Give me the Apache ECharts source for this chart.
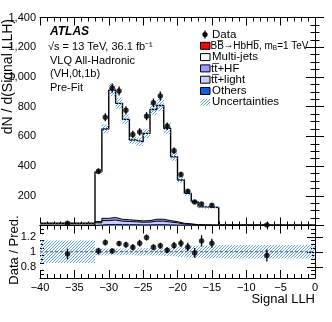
<!DOCTYPE html>
<html>
<head>
<meta charset="utf-8">
<script src="https://cdn.jsdelivr.net/npm/echarts@6/dist/echarts.min.js"></script>
<style>
html,body{margin:0;padding:0;background:#fff;}
#main{width:332px;height:322px;}
</style>
</head>
<body>
<div id="main"></div>
<script>
// Signal LLH bin edges (variable width bins)
var binEdges = [-40,-32,-31,-30,-29,-28,-27,-26,-25,-24,-23,-22,-21,-20,-19,-18,-17,-16,-14,0];

// pre-fit backgrounds, dN/d(Signal LLH)
var others   = [0.5, 3, 6, 6, 5, 5, 5, 4, 4, 5, 5, 4, 3, 2, 2, 1, 1, 0.5, 0.1];
var ttLight  = [1, 15, 27, 31, 24, 22, 20, 18, 19, 24, 24, 19, 15, 8, 6, 3, 2, 1.5, 0.2];
var ttHF     = [0.5, 8, 15, 17, 13, 12, 10, 9, 10, 13, 13, 10, 8, 5, 3, 2, 1.5, 1, 0.1];
var multiJets= [13, 335, 602, 857, 780, 675, 540, 532, 587, 739, 766, 622, 436, 291, 205, 154, 121, 119, 3.4];
var signal   = [0, 0.2, 0.4, 0.6, 0.6, 0.6, 0.5, 0.5, 0.6, 0.8, 1, 1, 1, 1, 0.8, 0.8, 0.7, 0.6, 0.2];

// data
var dataX   = [-36, -31.5, -30.5, -29.5, -28.5, -27.5, -26.5, -25.5, -24.5, -23.5, -22.5, -21.5, -20.5, -19.5, -18.5, -17.5, -16.5, -15, -7];
var dataY   = [14.5, 365, 728, 925, 905, 775, 612, 630, 735, 826, 872, 668, 503, 343, 230, 158, 145, 136, 3.8];
var dataErr = [2, 19, 27, 30, 30, 28, 25, 25, 27, 29, 30, 26, 22, 19, 15, 13, 12, 8, 0.5];

// ratio panel
var ratio    = [0.97, 1.01, 1.125, 1.01, 1.11, 1.095, 1.06, 1.115, 1.19, 1.06, 1.08, 1.02, 1.085, 1.115, 1.065, 0.985, 1.145, 1.115, 0.95];
var ratioErr = [0.07, 0.045, 0.04, 0.035, 0.035, 0.04, 0.04, 0.045, 0.04, 0.04, 0.04, 0.04, 0.045, 0.05, 0.055, 0.065, 0.075, 0.06, 0.08];
var relUnc   = [0.15, 0.05, 0.045, 0.045, 0.045, 0.045, 0.045, 0.05, 0.05, 0.05, 0.05, 0.055, 0.06, 0.07, 0.075, 0.08, 0.08, 0.085, 0.09];

var ratioTicks = [0.8, 1, 1.2];
var ratioMinorTicks = [0.7, 0.75, 0.85, 0.9, 0.95, 1.05, 1.1, 1.15, 1.25, 1.3];

var FONT = "'Liberation Sans', Arial, Helvetica, sans-serif";

// hatch pattern for the uncertainty band (pixel diagonal)
var hatch = document.createElement('canvas');
hatch.width = 3; hatch.height = 3;
var hc = hatch.getContext('2d');
hc.fillStyle = '#62a3e6';
for (var k = 0; k < 3; k++) hc.fillRect(k, 2 - k, 1, 1);
var hatchFill = {image: hatch, repeat: 'repeat'};

function stepData(vals){
    var out = [];
    for (var i = 0; i < vals.length; i++) out.push([binEdges[i], vals[i]]);
    out.push([binEdges[vals.length], vals[vals.length - 1]]);
    return out;
}

// cumulative stack (bottom to top: others, tt+light, tt+HF, multi-jets, signal)
var cum1 = [], cum2 = [], cum3 = [], cum4 = [], total = [];
for (var i = 0; i < multiJets.length; i++) {
    cum1.push(others[i]);
    cum2.push(cum1[i] + ttLight[i]);
    cum3.push(cum2[i] + ttHF[i]);
    cum4.push(cum3[i] + multiJets[i]);
    total.push(cum4[i] + signal[i]);
}
var bandMain = [], bandRatio = [];
for (var i = 0; i < total.length; i++) {
    bandMain.push([binEdges[i], binEdges[i+1], total[i]*(1-relUnc[i]), total[i]*(1+relUnc[i])]);
    bandRatio.push([binEdges[i], binEdges[i+1], 1-relUnc[i], 1+relUnc[i]]);
}
var pts = [], ratioPts = [];
for (var i = 0; i < dataX.length; i++) {
    pts.push([dataX[i], dataY[i], dataErr[i]]);
    ratioPts.push([dataX[i], ratio[i], ratioErr[i]]);
}

function bandItem(params, api){
    var p0 = api.coord([api.value(0), api.value(3)]);
    var p1 = api.coord([api.value(1), api.value(2)]);
    return {
        type: 'rect',
        shape: {x: p0[0], y: p0[1], width: p1[0]-p0[0], height: p1[1]-p0[1]},
        style: {fill: hatchFill}
    };
}
function errItem(params, api){
    var x = api.value(0), y = api.value(1), e = api.value(2);
    var a = api.coord([x, y-e]), b = api.coord([x, y+e]);
    return {type: 'line', shape: {x1: a[0], y1: a[1], x2: b[0], y2: b[1]},
            style: {stroke: '#000', lineWidth: 1.3}};
}

function histSeries(vals, color, lw, z){
    return {
        type: 'line', xAxisIndex: 0, yAxisIndex: 0,
        step: 'end', showSymbol: false, symbol: 'none',
        data: stepData(vals), z: z,
        lineStyle: {color: lw > 0 ? '#000' : color, width: lw},
        areaStyle: {color: color, opacity: 1, origin: 'start'}
    };
}

function xAx(grid, pos, labels, len){
    return {
        type: 'value', gridIndex: grid, position: pos, min: -40, max: 0, interval: 5,
        axisLine: {show: true, onZero: false, lineStyle: {color: '#000', width: 1}},
        axisTick: {show: true, inside: true, length: len, lineStyle: {color: '#000'}},
        minorTick: {show: true, splitNumber: 5, length: len/2, lineStyle: {color: '#000'}},
        splitLine: {show: false},
        axisLabel: {show: labels, color: '#000', fontSize: 11, fontFamily: FONT, margin: 4,
            formatter: function(v){ return v < 0 ? '\u2212' + Math.abs(v) : '' + v; }}
    };
}
function yRatio(pos, ticks, len, line, labels){
    return {type: 'value', gridIndex: 1, position: pos, min: 0.65, max: 1.35,
        axisLine: {show: line, lineStyle: {color: '#000'}},
        axisTick: {show: true, inside: true, length: len, customValues: ticks, lineStyle: {color: '#000'}},
        splitLine: {show: false},
        axisLabel: {show: labels, color: '#000', fontSize: 11, fontFamily: FONT, margin: 4, customValues: ticks}};
}
function yMain(pos, labels){
    return {type: 'value', gridIndex: 0, position: pos, min: 0, max: 1400, interval: 200,
        axisLine: {show: true, lineStyle: {color: '#000'}},
        axisTick: {show: true, inside: true, length: 9, lineStyle: {color: '#000'}},
        minorTick: {show: true, splitNumber: 4, length: 4.5, lineStyle: {color: '#000'}},
        splitLine: {show: false},
        axisLabel: {show: labels, color: '#000', fontSize: 11, fontFamily: FONT, margin: 4, showMinLabel: false}};
}

function legendText(x, y, text){
    return {type: 'text', x: x, y: y, style: {text: text, font: '11.5px ' + FONT, fill: '#000', verticalAlign: 'middle'}};
}
function legendBox(y, fill){
    return {type: 'rect', shape: {x: 200.5, y: y - 3.5, width: 9.5, height: 7}, style: {fill: fill, stroke: '#000', lineWidth: 1}};
}

var myChart = echarts.init(document.getElementById('main'));
var option = {
    animation: false,
    backgroundColor: '#fff',
    grid: [
        {left: 40, right: 17, top: 17.5, height: 208},
        {left: 40, right: 17, top: 225.5, height: 52.5}
    ],
    xAxis: [
        xAx(0, 'bottom', false, 8),
        xAx(0, 'top', false, 8),
        xAx(1, 'bottom', true, 8),
        xAx(1, 'top', false, 8)
    ],
    yAxis: [
        yMain('left', true),
        yMain('right', false),
        yRatio('left', ratioTicks, 8, true, true),
        yRatio('right', ratioTicks, 8, true, false),
        yRatio('left', ratioMinorTicks, 4, false, false),
        yRatio('right', ratioMinorTicks, 4, false, false)
    ],
    series: [
        histSeries(total, '#ff0000', 0, 1),
        histSeries(cum4, '#ffffff', 1.4, 2),
        histSeries(cum3, '#9a9aff', 1, 3),
        histSeries(cum2, '#ccccff', 1, 4),
        histSeries(cum1, '#0a5fe6', 1, 5),
        {type: 'custom', xAxisIndex: 0, yAxisIndex: 0, data: bandMain, renderItem: bandItem,
         encode: {x: [0, 1], y: [2, 3]}, clip: true, z: 6},
        {type: 'custom', xAxisIndex: 0, yAxisIndex: 0, data: pts, renderItem: errItem,
         encode: {x: 0, y: 1}, clip: true, z: 7},
        {type: 'scatter', xAxisIndex: 0, yAxisIndex: 0, data: pts, symbol: 'circle', symbolSize: 5.5,
         itemStyle: {color: '#000'}, z: 8},
        {type: 'custom', xAxisIndex: 2, yAxisIndex: 2, data: bandRatio, renderItem: bandItem,
         encode: {x: [0, 1], y: [2, 3]}, clip: true, z: 2},
        {type: 'line', xAxisIndex: 2, yAxisIndex: 2, data: [[-40, 1], [0, 1]], showSymbol: false, symbol: 'none',
         lineStyle: {color: '#555', width: 1, type: [3, 2]}, z: 3},
        {type: 'custom', xAxisIndex: 2, yAxisIndex: 2, data: ratioPts, renderItem: errItem,
         encode: {x: 0, y: 1}, clip: true, z: 5},
        {type: 'scatter', xAxisIndex: 2, yAxisIndex: 2, data: ratioPts, symbol: 'circle', symbolSize: 5.5,
         itemStyle: {color: '#000'}, z: 6}
    ],
    graphic: [
        // axis titles
        {type: 'text', x: 8, y: 19, rotation: Math.PI/2,
         style: {text: 'dN / d(Signal LLH)', font: '14px ' + FONT, fill: '#000', align: 'right', verticalAlign: 'middle'}},
        {type: 'text', x: 14, y: 250, rotation: Math.PI/2,
         style: {text: 'Data / Pred.', font: '13px ' + FONT, fill: '#000', align: 'center', verticalAlign: 'middle'}},
        {type: 'text', x: 315, y: 299,
         style: {text: 'Signal LLH', font: '13px ' + FONT, fill: '#000', align: 'right', verticalAlign: 'middle'}},
        // labels
        {type: 'text', x: 50, y: 32,
         style: {text: 'ATLAS', font: 'italic bold 12px ' + FONT, fill: '#000', verticalAlign: 'middle'}},
        {type: 'text', x: 48, y: 46.5,
         style: {text: '\u221As = 13 TeV, 36.1 fb\u207B\u00B9', font: '11px ' + FONT, fill: '#000', verticalAlign: 'middle'}},
        {type: 'text', x: 50, y: 60.5,
         style: {text: 'VLQ All-Hadronic', font: '11px ' + FONT, fill: '#000', verticalAlign: 'middle'}},
        {type: 'text', x: 50, y: 74,
         style: {text: '(VH,0t,1b)', font: '11px ' + FONT, fill: '#000', verticalAlign: 'middle'}},
        {type: 'text', x: 50, y: 87.5,
         style: {text: 'Pre-Fit', font: '11px ' + FONT, fill: '#000', verticalAlign: 'middle'}},
        // legend
        {type: 'line', shape: {x1: 205, y1: 30.5, x2: 205, y2: 38.5}, style: {stroke: '#000', lineWidth: 1.3}},
        {type: 'circle', shape: {cx: 205, cy: 34.5, r: 2.6}, style: {fill: '#000'}},
        legendText(212, 34.5, 'Data'),
        legendBox(45.8, '#ff0000'),
        {type: 'text', x: 210.5, y: 45.8, style: {
            text: '{a|BB\u0305}{r|\u2192}{a|HbHb\u0305, m}{s|B}{a|=1 TeV}', verticalAlign: 'middle', fill: '#000',
            rich: {a: {fontSize: 10, fontFamily: FONT, lineHeight: 12, verticalAlign: 'middle'},
                   r: {fontSize: 9.5, fontFamily: FONT, lineHeight: 12, verticalAlign: 'middle'},
                   s: {fontSize: 6.5, fontFamily: FONT, lineHeight: 7, verticalAlign: 'bottom'}}}},
        legendBox(57.1, '#ffffff'),
        legendText(212, 57.1, 'Multi-jets'),
        legendBox(68.4, '#9a9aff'),
        legendText(211, 68.4, 'tt\u0305+HF'),
        legendBox(79.7, '#ccccff'),
        legendText(211, 79.7, 'tt\u0305+light'),
        legendBox(91, '#0a5fe6'),
        legendText(212, 91, 'Others'),
        {type: 'rect', shape: {x: 200.5, y: 98.8, width: 9.5, height: 7}, style: {fill: hatchFill}},
        legendText(212, 102.3, 'Uncertainties')
    ]
};
myChart.clear();
myChart.setOption(option);
</script>
</body>
</html>
